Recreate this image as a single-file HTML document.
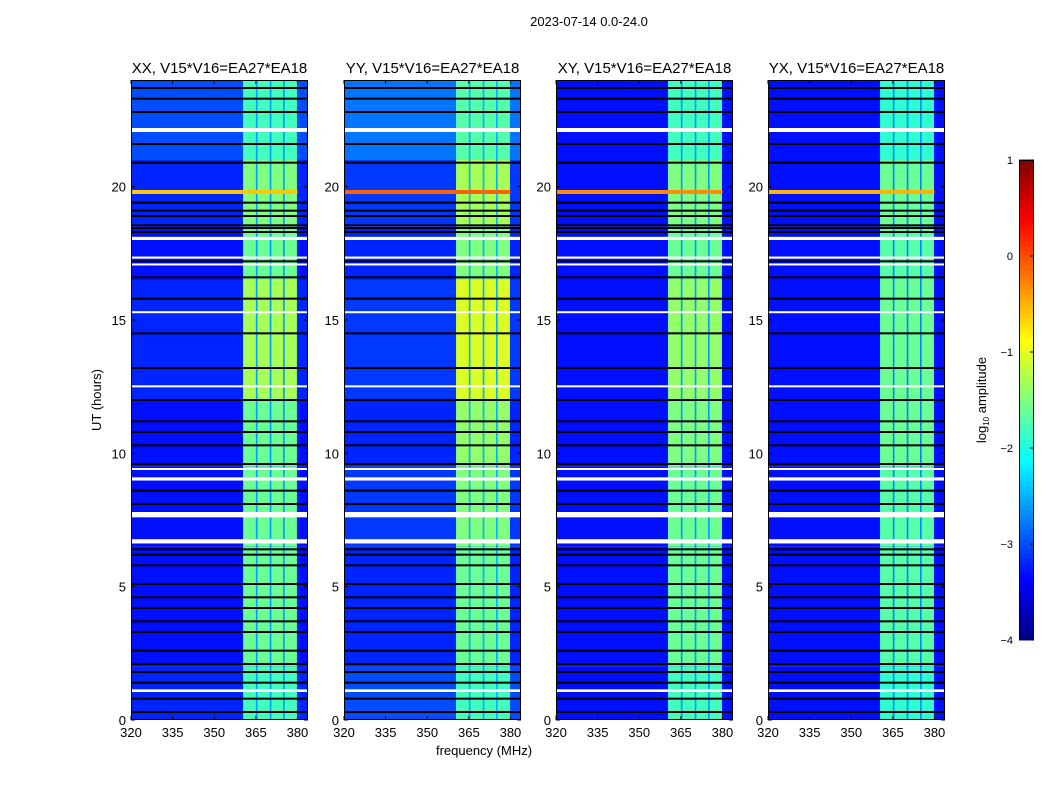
<!DOCTYPE html>
<html><head><meta charset="utf-8"><style>
body{margin:0;background:#fff;}
svg text{font-family:"Liberation Sans",sans-serif;fill:#000;}
</style></head><body>
<svg id="fig" width="1050" height="800" xmlns="http://www.w3.org/2000/svg">
<text x="589" y="26" font-size="13" text-anchor="middle">2023-07-14 0.0-24.0</text>
<text x="484" y="755" font-size="13" text-anchor="middle">frequency (MHz)</text>
<text x="101" y="400" font-size="13" text-anchor="middle" transform="rotate(-90 101 400)">UT (hours)</text>
<g id="panels"></g>
<g id="cbar"></g>
</svg>
<script>
// ---- data ----
const panelTitles = ["XX, V15*V16=EA27*EA18","YY, V15*V16=EA27*EA18","XY, V15*V16=EA27*EA18","YX, V15*V16=EA27*EA18"];
const xTicks = [320,335,350,365,380];
const yTicks = [0,5,10,15,20];
const cbTicks = [1,0,-1,-2,-3,-4];
const blockStarts = [0,2,6.5,9.5,12,16.5,18.5,21];
const blockEnds   = [2,6.5,9.5,12,16.5,18.5,21,24];
const bandXX = [-1.8,-1.6,-1.6,-1.6,-1.3,-1.6,-1.5,-1.8];
const bandYY = [-1.8,-1.6,-1.5,-1.4,-1.05,-1.5,-1.3,-1.7];
const bandXY = [-1.8,-1.6,-1.6,-1.5,-1.4,-1.6,-1.5,-1.8];
const bandYX = [-1.9,-1.7,-1.7,-1.6,-1.6,-1.7,-1.6,-1.9];
const bgXX = [-3.2,-3.3,-3.3,-3.3,-3.2,-3.3,-3.2,-3.0];
const bgYY = [-3.0,-3.2,-3.1,-3.2,-3.1,-3.2,-3.1,-2.8];
const bgXY = [-3.3,-3.3,-3.3,-3.3,-3.3,-3.3,-3.3,-3.3];
const bgYX = [-3.3,-3.3,-3.3,-3.3,-3.3,-3.3,-3.3,-3.3];
const subBands = [[360.4,365],[365.6,370],[370.6,374.8],[375.4,379.8]];
const gapLevel = [-2.6,-2.5,-2.6,-2.7];
const rfiHour = 19.8;
const rfiLevel = [-0.6,-0.1,-0.3,-0.5];
const whiteStart = [22.05,6.62,7.6,8.98,1.05,18.0,17.05,17.3,15.28,12.5,9.4];
const whiteEnd   = [22.2,6.78,7.8,9.1,1.15,18.12,17.12,17.38,15.33,12.55,9.45];
const blackHours = [23.7,23.3,22.8,21.6,20.9,19.4,19.1,18.9,18.45,18.55,18.3,17.2,16.6,15.8,14.5,13.2,12.0,11.2,10.8,10.3,9.6,8.6,8.1,6.4,6.2,5.8,5.1,4.6,4.2,3.7,3.3,2.6,2.1,1.8,1.4,0.8,0.3];
const bands = [bandXX,bandYY,bandXY,bandYX];
const bgs = [bgXX,bgYY,bgXY,bgYX];

// ---- layout ----
const panelX = [131,344,556,768], PW = 177, PT = 80, PB = 720;
const fmin = 320, fmax = 383.8, tmin = 0, tmax = 24;
const NS = "http://www.w3.org/2000/svg";
function xs(p,f){return panelX[p] + (f-fmin)/(fmax-fmin)*PW;}
function ys(h){return PB - (h-tmin)/(tmax-tmin)*(PB-PT);}
function jet(v){
  let t = Math.max(0,Math.min(1,(v+4)/5));
  const r = Math.max(0,Math.min(1,1.5-Math.abs(4*t-3)));
  const g = Math.max(0,Math.min(1,1.5-Math.abs(4*t-2)));
  const b = Math.max(0,Math.min(1,1.5-Math.abs(4*t-1)));
  return `rgb(${Math.round(r*255)},${Math.round(g*255)},${Math.round(b*255)})`;
}
function el(tag,attrs,parent){const e=document.createElementNS(NS,tag);for(const k in attrs)e.setAttribute(k,attrs[k]);parent.appendChild(e);return e;}

const G = document.getElementById('panels');
for(let p=0;p<4;p++){
  const g = el('g',{},G);
  
  
  for(let b=0;b<blockStarts.length;b++){
    const y0=ys(blockEnds[b]), y1=ys(blockStarts[b]);
    const bg = el('rect',{x:panelX[p],y:y0,width:PW,height:y1-y0,fill:jet(bgs[p][b])},g);
    
    
    const gp = el('rect',{x:xs(p,subBands[0][0]),y:y0,width:xs(p,subBands[3][1])-xs(p,subBands[0][0]),height:y1-y0,fill:jet(gapLevel[p])},g);
    
    
    for(const sb of subBands){
      const r = el('rect',{x:xs(p,sb[0]),y:y0,width:xs(p,sb[1])-xs(p,sb[0]),height:y1-y0,fill:jet(bands[p][b])},g);
      
      
    }
  }
  const rl = el('rect',{x:panelX[p],y:ys(rfiHour)-2,width:xs(p,380)-panelX[p],height:4,fill:jet(rfiLevel[p])},g);
  
  
  for(const h of blackHours){
    const r = el('rect',{x:panelX[p],y:ys(h)-1,width:PW,height:2,fill:'#000'},g);
    
    
  }
  for(let i=0;i<whiteStart.length;i++){
    const y0=ys(whiteEnd[i]), y1=ys(whiteStart[i]);
    const r = el('rect',{x:panelX[p],y:y0,width:PW,height:Math.max(2,y1-y0),fill:'#fff'},g);
    
    
  }
  const fr = el('rect',{x:panelX[p]+0.5,y:PT+0.5,width:PW-1,height:PB-PT-1,fill:'none',stroke:'#000','stroke-width':1},g);
  
  
  const t = el('text',{x:panelX[p]+PW/2,y:73,'font-size':15,'text-anchor':'middle'},g);
  t.textContent = panelTitles[p];
  
  
  for(const f of xTicks){
    const x=xs(p,f);
    el('line',{x1:x,x2:x,y1:PB,y2:PB-4,stroke:'#000'},g);
    el('line',{x1:x,x2:x,y1:PT,y2:PT+4,stroke:'#000'},g);
    const tt = el('text',{x:x,y:PB+17,'font-size':13,'text-anchor':'middle'},g);
    tt.textContent=f;
    
    
  }
  for(const h of yTicks){
    const y=ys(h);
    el('line',{x1:panelX[p],x2:panelX[p]+4,y1:y,y2:y,stroke:'#000'},g);
    el('line',{x1:panelX[p]+PW,x2:panelX[p]+PW-4,y1:y,y2:y,stroke:'#000'},g);
    const tt = el('text',{x:panelX[p]-5,y:y+5,'font-size':13,'text-anchor':'end'},g);
    tt.textContent=h;
    
    
  }
}
const C = document.getElementById('cbar');


const cx=1019,cw=15,ct=160,cb=640;
function cy(v){return cb-(v+4)/5*(cb-ct);}
for(let i=0;i<100;i++){
  const v0=-4+i*0.05;
  el('rect',{x:cx,y:cy(v0+0.05)-0.5,width:cw,height:(cb-ct)/100+1,fill:jet(v0+0.025)},C);
}
el('rect',{x:cx+0.5,y:ct+0.5,width:cw-1,height:cb-ct-1,fill:'none',stroke:'#000'},C);
for(const v of cbTicks){
  const y=cy(v);
  el('line',{x1:cx+cw-4,x2:cx+cw,y1:y,y2:y,stroke:'#000'},C);
  const tt=el('text',{x:cx-6,y:y+4,'font-size':11,'text-anchor':'end'},C);
  tt.textContent=(v<0?'\u2212'+(-v):v);
  
  
}
const ct2=el('text',{x:986,y:400,'font-size':13,'text-anchor':'middle',transform:'rotate(-90 986 400)'},C);
ct2.innerHTML='log<tspan font-size="8" dy="3">10</tspan><tspan dy="-3"> amplitude</tspan>';


</script>
</body></html>
